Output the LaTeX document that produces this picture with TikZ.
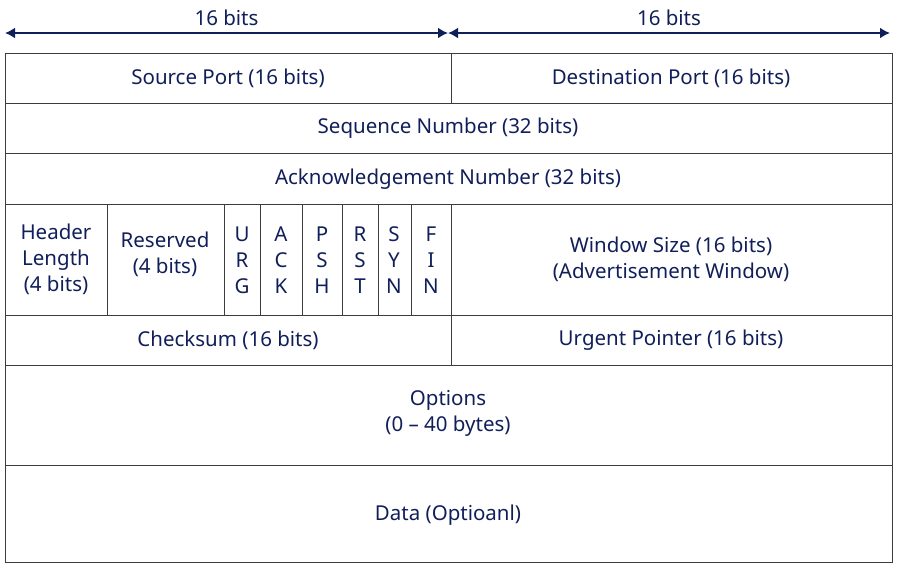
\documentclass[tikz,border=0pt]{standalone}
\usepackage{fontspec}
\setmainfont{Noto Sans}
\usetikzlibrary{arrows.meta}
\definecolor{navy}{RGB}{16,30,90}
\definecolor{grid}{RGB}{60,60,60}
\begin{document}
\begin{tikzpicture}[x=1pt,y=-1pt,
  lbl/.style={text=navy,font=\fontsize{20.5}{26}\selectfont,align=center,inner sep=0pt},
  flag/.style={lbl},
  dim/.style={navy,line width=2.5pt,{Latex[length=10pt,width=11pt]}-{Latex[length=10pt,width=11pt]}}]
\useasboundingbox (0,0) rectangle (897,568);
\coordinate (a1) at (5,33); \coordinate (a2) at (448,33); \coordinate (a3) at (890,33);
\draw[dim] (a1) -- node[lbl,above=6pt] (t1) {16 bits} (a2);
\draw[dim] (a2) -- node[lbl,above=6pt] (t2) {16 bits} (a3);
\draw[grid,line width=0.8pt] (5,53) rectangle (892,562);
\foreach \y in {103,153,204,315,365,465} \draw[grid,line width=0.8pt] (5,\y) -- (892,\y);
\draw[grid,line width=0.8pt] (451,53) -- (451,103);
\draw[grid,line width=0.8pt] (451,204) -- (451,365);
\foreach \x in {107,224,260,302,342,378,411} \draw[grid,line width=0.8pt] (\x,204) -- (\x,315);
\node[lbl] (sp) at (228,78) {Source Port (16 bits)};
\node[lbl] (dp) at (671,78) {Destination Port (16 bits)};
\node[lbl] (sn) at (448,128) {Sequence Number (32 bits)};
\node[lbl] (an) at (448,179) {Acknowledgement Number (32 bits)};
\node[lbl] (hl) at (56,259) {Header\\Length\\(4 bits)};
\node[lbl] (rs) at (165,254) {Reserved\\(4 bits)};
\node[flag] (f1) at (242,260) {U\\R\\G};
\node[flag] (f2) at (281,260) {A\\C\\K};
\node[flag] (f3) at (322,260) {P\\S\\H};
\node[flag] (f4) at (360,260) {R\\S\\T};
\node[flag] (f5) at (394,260) {S\\Y\\N};
\node[flag] (f6) at (431,260) {F\\I\\N};
\node[lbl] (ws) at (671,259) {Window Size (16 bits)\\(Advertisement Window)};
\node[lbl] (cs) at (228,340) {Checksum (16 bits)};
\node[lbl] (up) at (671,340) {Urgent Pointer (16 bits)};
\node[lbl] (op) at (448,413) {Options\\(0 – 40 bytes)};
\node[lbl] (da) at (448,515) {Data (Optioanl)};
\end{tikzpicture}
\end{document}
